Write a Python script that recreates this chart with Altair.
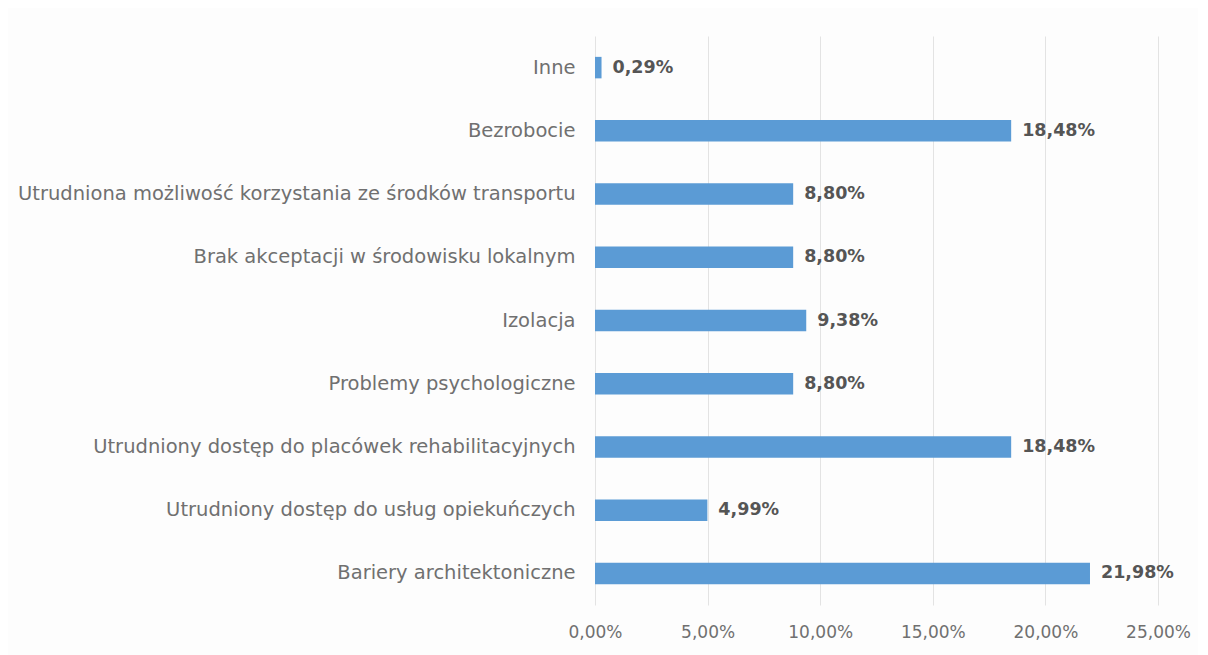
import altair as alt
import pandas as pd

categories = [
    "Inne",
    "Bezrobocie",
    "Utrudniona możliwość korzystania ze środków transportu",
    "Brak akceptacji w środowisku lokalnym",
    "Izolacja",
    "Problemy psychologiczne",
    "Utrudniony dostęp do placówek rehabilitacyjnych",
    "Utrudniony dostęp do usług opiekuńczych",
    "Bariery architektoniczne",
]
values = [0.29, 18.48, 8.80, 8.80, 9.38, 8.80, 18.48, 4.99, 21.98]
value_labels = ["0,29%", "18,48%", "8,80%", "8,80%", "9,38%", "8,80%", "18,48%", "4,99%", "21,98%"]

df = pd.DataFrame({"cat": categories, "val": values, "lbl": value_labels})

y_enc = alt.Y("cat:N", sort=categories, title=None,
              scale=alt.Scale(paddingInner=0.66, paddingOuter=0.33),
              axis=alt.Axis(labelFont="DejaVu Sans", labelFontSize=19.5, labelColor="#707070",
                            labelPadding=20, ticks=False, domain=False, labelLimit=800))
x_enc = alt.X("val:Q", title=None,
              scale=alt.Scale(domain=[0, 25], nice=False),
              axis=alt.Axis(values=[0, 5, 10, 15, 20, 25],
                            labelExpr="replace(format(datum.value, '.2f'), '.', ',') + '%'",
                            labelFont="DejaVu Sans", labelFontSize=17, labelColor="#707070",
                            labelPadding=19, labelFlush=False, ticks=False, domain=False,
                            grid=True, gridColor="#e3e3e3", gridWidth=1))

bars = alt.Chart(df).mark_bar(color="#5b9bd5").encode(y=y_enc, x=x_enc)
text = alt.Chart(df).mark_text(align="left", baseline="middle", dx=11,
                               font="DejaVu Sans", fontSize=17.5, fontWeight="bold",
                               color="#555555").encode(
    y=alt.Y("cat:N", sort=categories), x="val:Q", text="lbl:N")

chart = (bars + text).properties(
    width=563, height=569,
    autosize=alt.AutoSizeParams(type="none"),
    padding={"left": 587, "top": 28, "right": 40, "bottom": 50},
    background="#fdfdfd",
).configure_view(stroke=None)

chart.save("out.html", embed_options={"renderer": "svg", "actions": False})
